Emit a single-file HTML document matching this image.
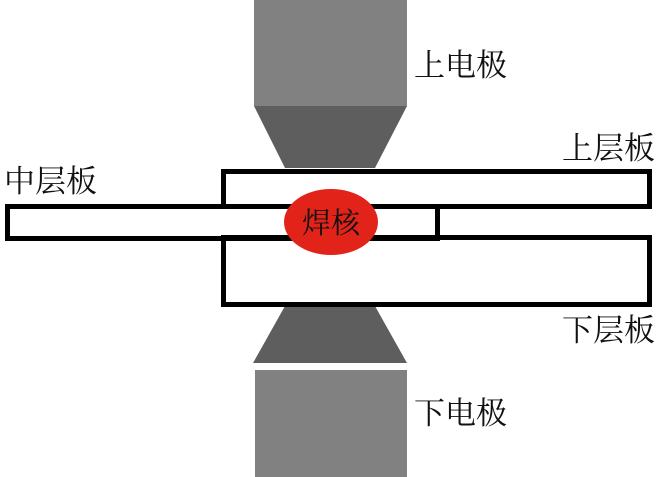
<!DOCTYPE html>
<html><head><meta charset="utf-8"><style>
html,body{margin:0;padding:0;background:#fff;width:659px;height:477px;overflow:hidden}
svg{display:block}
text{font-family:"Liberation Serif","Noto Serif CJK SC",serif;fill:#111}
</style></head><body>
<svg width="659" height="477" viewBox="0 0 659 477">
<rect x="254" y="0" width="153" height="106" fill="#818181"/>
<polygon points="254,106 407,106 375,168 285,168" fill="#5e5e5e"/>
<polygon points="285,306 375,306 407,363 253,363" fill="#5e5e5e"/>
<rect x="255" y="370" width="152" height="107" fill="#818181"/>
<g fill="none" stroke="#000" stroke-width="5">
<rect x="7.5" y="206.5" width="430" height="32"/>
<rect x="223.5" y="171.5" width="426" height="35"/>
<rect x="223.5" y="237.5" width="426" height="67"/>
</g>
<ellipse cx="331" cy="222" rx="47" ry="33" fill="#e2231a"/>
<text x="331" y="233" font-size="29" text-anchor="middle">焊核</text>
<text x="414" y="76" font-size="31">上电极</text>
<text x="562" y="159" font-size="31">上层板</text>
<text x="4" y="192" font-size="31">中层板</text>
<text x="562" y="341" font-size="31">下层板</text>
<text x="414" y="424" font-size="31">下电极</text>
</svg>
</body></html>
